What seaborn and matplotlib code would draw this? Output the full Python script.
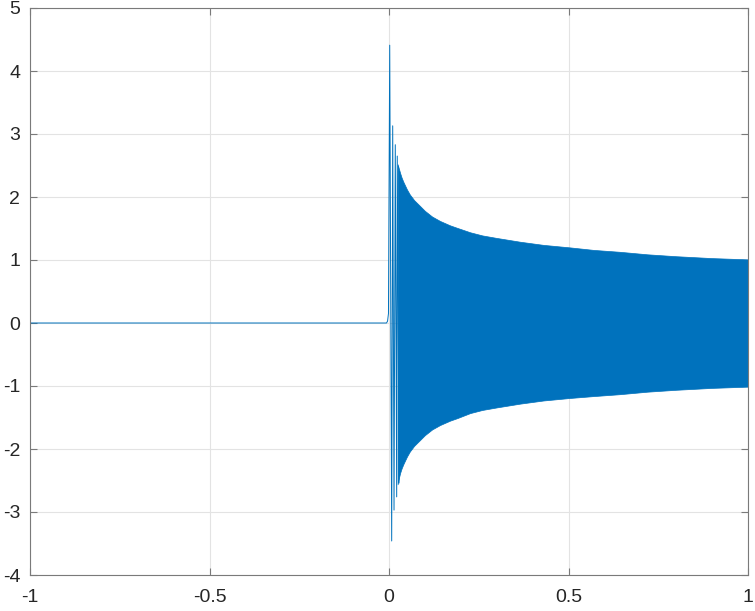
import numpy as np
import pandas as pd
import seaborn as sns
import matplotlib.pyplot as plt

# Trecho inicial: sinal nulo até perto de 0, depois os primeiros picos isolados
wave_x = [-1.0, -0.007, -0.004, -0.0015, 0.002, 0.0075, 0.0103, 0.014, 0.0175, 0.0214, 0.023, 0.028]
wave_y = [0.0, 0.0, 0.03, 0.15, 4.41, -3.46, 3.13, -2.97, 2.83, -2.76, 2.65, -2.54]

# Envelope da oscilação densa
env_x = [0.024, 0.028, 0.031, 0.035, 0.04, 0.045, 0.05, 0.058, 0.07, 0.086, 0.1, 0.12,
         0.142, 0.17, 0.19, 0.226, 0.26, 0.3, 0.365, 0.43, 0.504, 0.57, 0.643, 0.72,
         0.8, 0.9, 1.0]
env_upper = [2.52, 2.44, 2.38, 2.31, 2.24, 2.18, 2.12, 2.04, 1.95, 1.86, 1.78, 1.69,
             1.62, 1.55, 1.51, 1.44, 1.39, 1.35, 1.29, 1.24, 1.20, 1.16, 1.13, 1.09,
             1.06, 1.03, 1.01]
env_lower = [-2.56, -2.45, -2.38, -2.31, -2.24, -2.18, -2.12, -2.04, -1.95, -1.86, -1.78, -1.69,
             -1.62, -1.55, -1.51, -1.43, -1.38, -1.34, -1.28, -1.23, -1.19, -1.16, -1.13, -1.09,
             -1.06, -1.03, -1.01]

x_ticks = [-1, -0.5, 0, 0.5, 1]
x_labels = ['-1', '-0.5', '0', '0.5', '1']
y_ticks = [-4, -3, -2, -1, 0, 1, 2, 3, 4, 5]

LINE_COLOR = '#0072BD'

sns.set_theme(style="ticks")
plt.rcParams['font.family'] = ['Liberation Sans', 'DejaVu Sans']
plt.rcParams['axes.unicode_minus'] = False

fig = plt.figure(figsize=(7.55, 6.11), dpi=100)
ax = fig.add_axes([30 / 755, 1 - 575 / 611, 718 / 755, 567 / 611])

df_wave = pd.DataFrame({'x': wave_x, 'y': wave_y})
sns.lineplot(data=df_wave, x='x', y='y', sort=False, estimator=None,
             color=LINE_COLOR, linewidth=0.7, ax=ax)

ax.fill_between(env_x, env_lower, env_upper, color=LINE_COLOR, linewidth=0.5,
                edgecolor=LINE_COLOR)

ax.set_xlim(-1, 1)
ax.set_ylim(-4, 5)
ax.set_xticks(x_ticks)
ax.set_xticklabels(x_labels)
ax.set_yticks(y_ticks)
ax.set_yticklabels([str(v) for v in y_ticks])
ax.set_xlabel('')
ax.set_ylabel('')

ax.grid(True, color='#e3e3e3', linewidth=0.8)
ax.set_axisbelow(True)
for side in ['left', 'right', 'top', 'bottom']:
    ax.spines[side].set_visible(True)
    ax.spines[side].set_color('#7a7a7a')
    ax.spines[side].set_linewidth(0.8)

ax.tick_params(axis='both', direction='in', length=5, width=0.8, color='#7a7a7a',
               labelsize=14, labelcolor='#262626', top=True, right=True)
ax.tick_params(axis='x', pad=10)
ax.tick_params(axis='y', pad=7)

fig.savefig('out.png', dpi=100)
